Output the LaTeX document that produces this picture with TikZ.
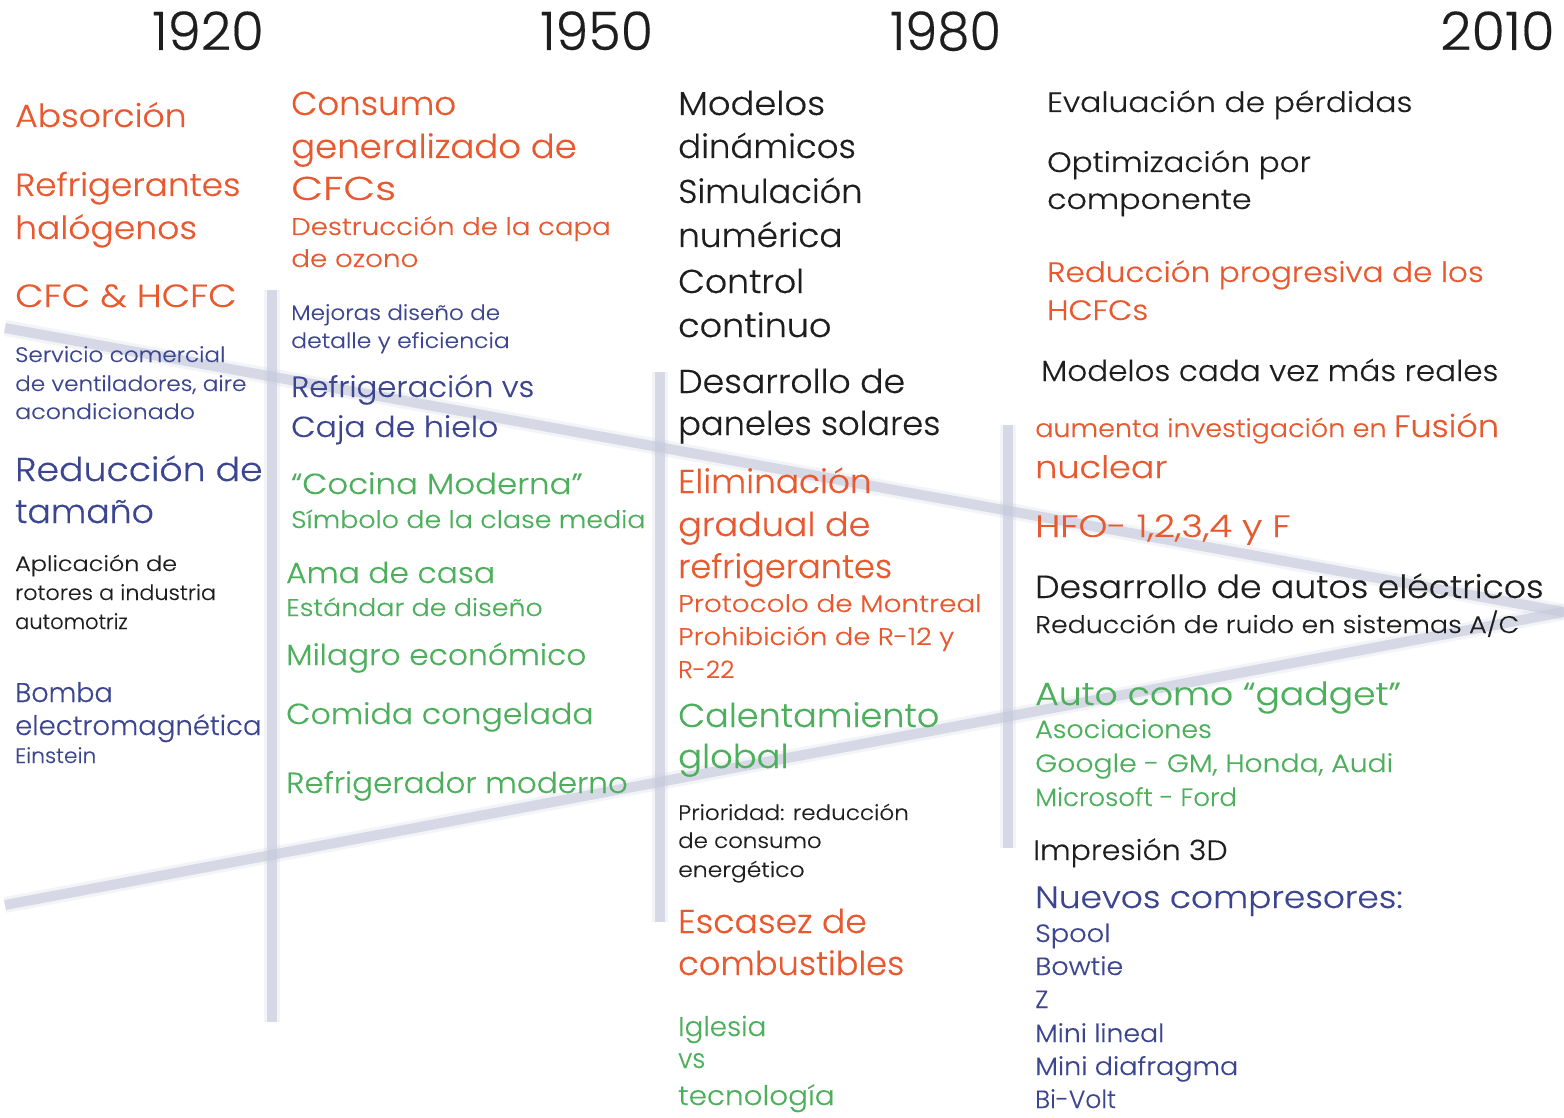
\documentclass[tikz,border=0pt]{standalone}
\usepackage{fontspec}
\usepackage{graphicx}
\setmainfont{Poppins}[UprightFont=* Light, FakeBold=0.3]
\definecolor{cor}{HTML}{E8592F}
\definecolor{cbl}{HTML}{3C4590}
\definecolor{cgr}{HTML}{4CAF5B}
\definecolor{cbk}{HTML}{1E1E1E}
\definecolor{cband}{HTML}{C3C8DA}
\newcounter{tl}
\newcommand\T[5][1]{\stepcounter{tl}\node[txt,#2] (t\arabic{tl}) at (#3,#4) {\scalebox{#1}[1]{#5}};}
\tikzset{
  txt/.style={inner sep=0pt, anchor=base west},
  fz/.style={font=\fontsize{#1}{#1}\selectfont},
  band/.style={line width=10pt, color=cband, opacity=0.6},
  bandglow/.style={line width=16pt, color=cband, opacity=0.2},
}
\begin{document}
\begin{tikzpicture}[x=1pt,y=-1pt]
\useasboundingbox[fill=white] (0,0) rectangle (1564,1118);
% band coordinates
\coordinate (u1) at (5,328);
\coordinate (u2) at (1564,612);
\coordinate (l1) at (5,905);
\coordinate (l2) at (1564,612);
\coordinate (v1a) at (272,290);
\coordinate (v1b) at (272,1022);
\coordinate (v2a) at (660,372);
\coordinate (v2b) at (660,922);
\coordinate (v3a) at (1008,425);
\coordinate (v3b) at (1008,848);
\foreach \a/\b in {u1/u2,l1/l2,v1a/v1b,v2a/v2b,v3a/v3b}{
  \draw[bandglow] (\a) -- (\b);
  \draw[band] (\a) -- (\b);
}
% years
\T[1.0]{fz=53,cbk}{152}{50}{1920}
\T[0.99]{fz=53,cbk}{540}{50}{1950}
\T[0.97]{fz=53,cbk}{890}{50}{1980}
\T[1.03]{fz=53,cbk}{1440}{50}{2010}
% column 1
\T[1.08]{fz=32,cor}{15}{127}{Absorción}
\T[1.07]{fz=32,cor}{15}{196}{Refrigerantes}
\T[1.08]{fz=32,cor}{15}{239}{halógenos}
\T[1.15]{fz=32,cor}{15}{307}{CFC \& HCFC}
\T[1.10]{fz=21,cbl}{15}{362}{Servicio comercial}
\T[1.10]{fz=21,cbl}{15}{391}{de ventiladores, aire}
\T[1.13]{fz=21,cbl}{15}{419}{acondicionado}
\T[1.10]{fz=33,cbl}{15}{481}{Reducción de}
\T[1.05]{fz=33,cbl}{15}{523}{tamaño}
\T[1.14]{fz=21,cbk}{15}{571}{Aplicación de}
\T[1.06]{fz=21,cbk}{15}{600}{rotores a industria}
\T[1.0]{fz=21,cbk}{15}{629}{automotriz}
\T[1.0]{fz=27,cbl}{15}{702}{Bomba}
\T[1.02]{fz=27,cbl}{15}{735}{electromagnética}
\T[1.04]{fz=21,cbl}{15}{763}{Einstein}
% column 2
\T[1.03]{fz=33,cor}{291}{115}{Consumo}
\T[1.075]{fz=33,cor}{291}{158}{generalizado de}
\T[1.25]{fz=33,cor}{291}{200}{CFCs}
\T[1.15]{fz=24,cor}{291}{235}{Destrucción de la capa}
\T[1.16]{fz=24,cor}{291}{267}{de ozono}
\T[1.10]{fz=21,cbl}{291}{320}{Mejoras diseño de}
\T[1.12]{fz=21,cbl}{291}{348}{detalle y eficiencia}
\T[1.06]{fz=29,cbl}{291}{397}{Refrigeración vs}
\T[1.09]{fz=29,cbl}{291}{437}{Caja de hielo}
\T[1.12]{fz=29,cgr}{291}{494}{“Cocina Moderna”}
\T[1.12]{fz=24,cgr}{291}{528}{Símbolo de la clase media}
\T[1.08]{fz=29,cgr}{286}{583}{Ama de casa}
\T[1.12]{fz=24,cgr}{286}{616}{Estándar de diseño}
\T[1.08]{fz=29,cgr}{286}{665}{Milagro económico}
\T[1.09]{fz=29,cgr}{286}{724}{Comida congelada}
\T[1.07]{fz=29,cgr}{286}{793}{Refrigerador moderno}
% column 3
\T[1.07]{fz=33,cbk}{678}{115}{Modelos}
\T[1.03]{fz=33,cbk}{678}{158}{dinámicos}
\T[1.02]{fz=33,cbk}{678}{203}{Simulación}
\T[1.04]{fz=33,cbk}{678}{247}{numérica}
\T[1.05]{fz=33,cbk}{678}{293}{Control}
\T[1.06]{fz=33,cbk}{678}{337}{continuo}
\T[1.05]{fz=33,cbk}{678}{393}{Desarrollo de}
\T[1.02]{fz=33,cbk}{678}{435}{paneles solares}
\T[1.04]{fz=33,cor}{678}{493}{Eliminación}
\T[1.06]{fz=33,cor}{678}{536}{gradual de}
\T[1.02]{fz=33,cor}{678}{578}{refrigerantes}
\T[1.16]{fz=24,cor}{678}{612}{Protocolo de Montreal}
\T[1.14]{fz=24,cor}{678}{645}{Prohibición de R-12 y}
\T[1.04]{fz=24,cor}{678}{678}{R-22}
\T[1.06]{fz=33,cgr}{678}{727}{Calentamiento}
\T[1.07]{fz=33,cgr}{678}{768}{global}
\T[1.10]{fz=21,cbk}{678}{820}{Prioridad: reducción}
\T[1.09]{fz=21,cbk}{678}{848}{de consumo}
\T[1.12]{fz=21,cbk}{678}{877}{energético}
\T[1.05]{fz=33,cor}{678}{933}{Escasez de}
\T[1.02]{fz=33,cor}{678}{975}{combustibles}
\T[1.03]{fz=27,cgr}{678}{1036}{Iglesia}
\T[0.95]{fz=27,cgr}{678}{1068}{vs}
\T[1.09]{fz=27,cgr}{678}{1105}{tecnología}
% column 4
\T[1.12]{fz=28,cbk}{1047}{112}{Evaluación de pérdidas}
\T[1.11]{fz=28,cbk}{1047}{172}{Optimización por}
\T[1.13]{fz=28,cbk}{1047}{209}{componente}
\T[1.11]{fz=28,cor}{1047}{282}{Reducción progresiva de los}
\T[1.12]{fz=28,cor}{1047}{320}{HCFCs}
\T[1.07]{fz=29,cbk}{1041}{381}{Modelos cada vez más reales}
\T[1.08]{cor}{1035}{437}{{\fontsize{25}{25}\selectfont aumenta investigación en }{\fontsize{31}{31}\selectfont Fusión}}
\T[1.13]{fz=31,cor}{1035}{478}{nuclear}
\T[1.19]{fz=31,cor}{1035}{537}{HFO- 1,2,3,4 y F}
\T[1.08]{fz=32,cbk}{1035}{598}{Desarrollo de autos eléctricos}
\T[1.12]{fz=24,cbk}{1035}{633}{Reducción de ruido en sistemas A/C}
\T[1.13]{fz=32,cgr}{1035}{705}{Auto como “gadget”}
\T[1.075]{fz=25,cgr}{1035}{738}{Asociaciones}
\T[1.13]{fz=25,cgr}{1035}{772}{Google - GM, Honda, Audi}
\T[1.04]{fz=25,cgr}{1035}{806}{Microsoft - Ford}
\T[1.07]{fz=28,cbk}{1033}{860}{Impresión 3D}
\T[1.11]{fz=31,cbl}{1035}{908}{Nuevos compresores:}
\T[1.09]{fz=25,cbl}{1035}{942}{Spool}
\T[1.08]{fz=25,cbl}{1035}{975}{Bowtie}
\T[1.0]{fz=25,cbl}{1035}{1008}{Z}
\T[1.07]{fz=25,cbl}{1035}{1042}{Mini lineal}
\T[1.08]{fz=25,cbl}{1035}{1075}{Mini diafragma}
\T[1.0]{fz=25,cbl}{1035}{1108}{Bi-Volt}
\end{tikzpicture}
\end{document}
